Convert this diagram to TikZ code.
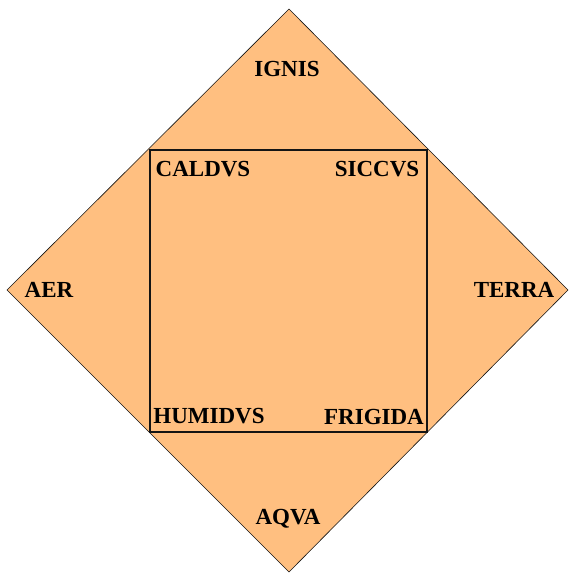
\documentclass[tikz,border=0pt]{standalone}
\usepackage{fontspec}
\setmainfont{Liberation Serif}
\usetikzlibrary{positioning, calc}
\definecolor{peachfill}{RGB}{255, 191, 128}
\definecolor{edgeline}{RGB}{20, 20, 20}

\tikzset{
    element/.style={font=\fontsize{23}{27}\selectfont\bfseries, inner sep=0pt},
    quality/.style={font=\fontsize{23}{27}\selectfont\bfseries, inner sep=0pt}
}

\begin{document}
\begin{tikzpicture}[x=1pt, y=-1pt]
                \useasboundingbox (0,0) rectangle (569,573);
                % corners of the diamond
                \coordinate (top) at (289,9);
                \coordinate (right) at (568,290);
                \coordinate (bottom) at (289,572);
                \coordinate (left) at (7,290);
                \draw[edgeline, fill=peachfill, line width=0.6pt] (top) -- (right) -- (bottom) -- (left) -- cycle;
                % inner square
                \coordinate (sqnw) at (150,150);
                \coordinate (sqse) at (427,432);
                \draw[edgeline, line width=1.1pt] (sqnw) rectangle (sqse);
                % the four elements
                \node[element] (ignis) at (287,69) {IGNIS};
                \node[element] (terra) at (514,290) {TERRA};
                \node[element] (aqva) at (288,519) {AQVA};
                \node[element] (aer) at (49,290) {AER};
                % the four qualities
                \node[quality] (caldvs) at (203,169) {CALDVS};
                \node[quality] (siccvs) at (377,169) {SICCVS};
                \node[quality] (humidvs) at (209,416) {HUMIDVS};
                \node[quality] (frigida) at (374,417) {FRIGIDA};
            \end{tikzpicture}
\end{document}
